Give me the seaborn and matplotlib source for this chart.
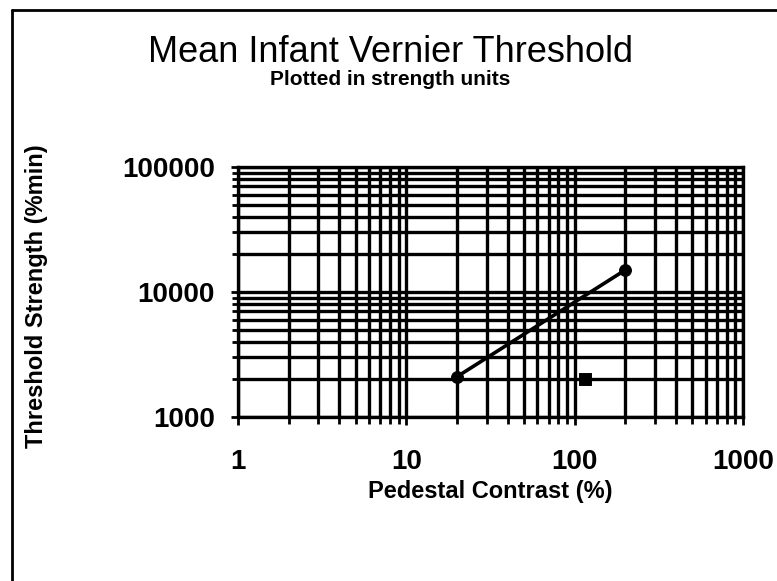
import matplotlib
matplotlib.use("Agg")
import matplotlib.pyplot as plt
from matplotlib.lines import Line2D
from matplotlib.ticker import LogLocator, NullFormatter, FixedLocator
import seaborn as sns
import pandas as pd

# Mean threshold data (pedestal contrast in %, threshold strength in %min)
contrast = [20, 200]
strength = [2100, 15000]
# Single additional point
extra_contrast = [115]
extra_strength = [2000]

x_ticks = [1, 10, 100, 1000]
x_tick_labels = ["1", "10", "100", "1000"]
y_ticks = [1000, 10000, 100000]
y_tick_labels = ["1000", "10000", "100000"]

sns.set_theme(style="white")
plt.rcParams["font.family"] = ["Liberation Sans", "DejaVu Sans"]

fig = plt.figure(figsize=(7.77, 5.81), dpi=100)
ax = fig.add_axes([0.3063, 0.2823, 0.6499, 0.4303])

df = pd.DataFrame({"contrast": contrast, "strength": strength})
df_extra = pd.DataFrame({"contrast": extra_contrast, "strength": extra_strength})

ax.set_xscale("log")
ax.set_yscale("log")
ax.set_xlim(1, 1000)
ax.set_ylim(1000, 100000)

# Dense black major + minor grid
ax.xaxis.set_minor_locator(LogLocator(base=10, subs=range(2, 10)))
ax.yaxis.set_minor_locator(LogLocator(base=10, subs=range(2, 10)))
ax.xaxis.set_minor_formatter(NullFormatter())
ax.yaxis.set_minor_formatter(NullFormatter())
ax.xaxis.set_major_locator(FixedLocator(x_ticks))
ax.yaxis.set_major_locator(FixedLocator(y_ticks))
ax.set_xticklabels(x_tick_labels)
ax.set_yticklabels(y_tick_labels)
ax.grid(True, which="both", color="black", linewidth=2.4)
ax.set_axisbelow(True)

sns.lineplot(data=df, x="contrast", y="strength", ax=ax, color="black",
             linewidth=2.6, marker="o", markersize=8.5, markeredgecolor="black")
sns.scatterplot(data=df_extra, x="contrast", y="strength", ax=ax, color="black",
                marker="s", s=70, edgecolor="black")

for side in ["left", "bottom", "right", "top"]:
    ax.spines[side].set_visible(True)
    ax.spines[side].set_color("black")
    ax.spines[side].set_linewidth(2.4)

ax.tick_params(axis="both", which="both", direction="out", color="black",
               width=2, bottom=True, left=True)
ax.tick_params(axis="x", which="major", length=6, pad=17, labelsize=20)
ax.tick_params(axis="x", which="minor", length=5)
ax.tick_params(axis="y", which="major", length=5, pad=11.5, labelsize=20)
ax.tick_params(axis="y", which="minor", length=4)
for lbl in ax.get_xticklabels() + ax.get_yticklabels():
    lbl.set_fontweight("bold")
    lbl.set_color("black")

ax.set_xlabel("Pedestal Contrast (%)", fontsize=17, fontweight="bold",
              color="black")
ax.xaxis.set_label_coords(0.5, -0.252)
ax.xaxis.label.set_verticalalignment("top")
ax.set_ylabel("Threshold Strength (%min)", fontsize=17, fontweight="bold",
              color="black")
ax.yaxis.set_label_coords(-0.376, 0.484)

fig.text(0.502, 0.909, "Mean Infant Vernier Threshold", ha="center",
         va="center", fontsize=26, color="black")
fig.text(0.502, 0.863, "Plotted in strength units", ha="center",
         va="center", fontsize=15, fontweight="bold", color="black")

# Outer chart frame (left and top edges)
fig.add_artist(Line2D([12 / 777, 12 / 777], [0, 1 - 10 / 581],
                      transform=fig.transFigure, color="black", linewidth=2))
fig.add_artist(Line2D([12 / 777, 1], [1 - 10 / 581, 1 - 10 / 581],
                      transform=fig.transFigure, color="black", linewidth=2))

fig.savefig("out.png", dpi=100, facecolor="white")
